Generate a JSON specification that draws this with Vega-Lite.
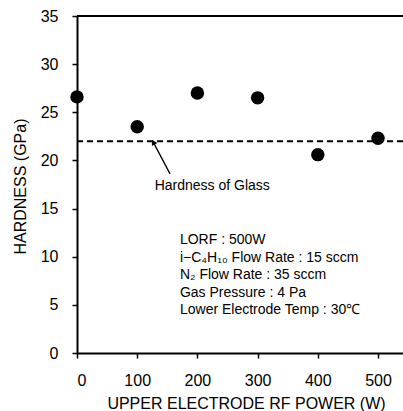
{
  "$schema": "https://vega.github.io/schema/vega-lite/v6.json",
  "width": 326,
  "height": 337,
  "autosize": {"type": "none"},
  "padding": {"left": 77, "top": 16, "right": 0, "bottom": 58},
  "background": "white",
  "config": {
    "font": "Liberation Sans",
    "view": {"stroke": null},
    "axis": {
      "grid": false,
      "labelColor": "black",
      "labelFont": "Liberation Sans",
      "labelFontSize": 16,
      "titleColor": "black",
      "titleFont": "Liberation Sans",
      "titleFontSize": 16,
      "titleFontWeight": "normal"
    }
  },
  "datasets": {
    "hardness": [
      {"power": 0, "hardness": 26.6},
      {"power": 100, "hardness": 23.5},
      {"power": 200, "hardness": 27.0},
      {"power": 300, "hardness": 26.5},
      {"power": 400, "hardness": 20.6},
      {"power": 500, "hardness": 22.3}
    ],
    "conditions": [
      {"power": 171, "hardness": 11.3, "label": "LORF : 500W"},
      {"power": 171, "hardness": 9.5, "label": "i−C₄H₁₀ Flow Rate : 15 sccm"},
      {"power": 171, "hardness": 7.7, "label": "N₂ Flow Rate : 35 sccm"},
      {"power": 171, "hardness": 5.85, "label": "Gas Pressure : 4 Pa"},
      {"power": 171, "hardness": 4.05, "label": "Lower Electrode Temp : 30℃"}
    ],
    "glassNote": [
      {"power": 129, "hardness": 16.9, "label": "Hardness of Glass"}
    ],
    "arrow": [
      {"power": 154.5, "hardness": 18.6, "end": "tail"},
      {"power": 126.7, "hardness": 21.9, "end": "tip"}
    ],
    "levels": [
      {"level": 35, "kind": "frame"},
      {"level": 22, "kind": "glass"}
    ]
  },
  "layer": [
    {
      "data": {"name": "levels"},
      "mark": {"type": "rule", "color": "black", "strokeWidth": 2},
      "encoding": {
        "y": {"field": "level", "type": "quantitative"},
        "strokeDash": {
          "field": "kind",
          "type": "nominal",
          "scale": {"domain": ["frame", "glass"], "range": [[1, 0], [6, 4]]},
          "legend": null
        }
      }
    },
    {
      "data": {"name": "hardness"},
      "mark": {"type": "circle", "color": "black", "opacity": 1, "size": 180},
      "encoding": {
        "x": {
          "field": "power",
          "type": "quantitative",
          "scale": {"domain": [0, 541.5], "nice": false, "zero": false},
          "axis": {
            "title": "UPPER ELECTRODE RF POWER (W)",
            "domain": true,
            "domainColor": "black",
            "domainWidth": 2,
            "ticks": true,
            "tickColor": "black",
            "tickWidth": 1.5,
            "tickSize": 5,
            "zindex": 1,
            "values": [0, 50, 100, 150, 200, 250, 300, 350, 400, 450, 500],
            "labelExpr": "datum.value % 100 === 0 ? datum.label : ''",
            "labelPadding": 14,
            "titleX": 169,
            "titleY": 50,
            "titleBaseline": "middle",
            "titleAnchor": "middle"
          }
        },
        "y": {
          "field": "hardness",
          "type": "quantitative",
          "scale": {"domain": [0, 35], "nice": false},
          "axis": {
            "title": "HARDNESS (GPa)",
            "domain": true,
            "domainColor": "black",
            "domainWidth": 2,
            "ticks": true,
            "tickColor": "black",
            "tickWidth": 1.5,
            "tickSize": 5,
            "zindex": 1,
            "values": [0, 2.5, 5, 7.5, 10, 12.5, 15, 17.5, 20, 22.5, 25, 27.5, 30, 32.5, 35],
            "labelExpr": "datum.value % 5 === 0 ? datum.label : ''",
            "labelPadding": 14,
            "titleX": -57,
            "titleY": 170,
            "titleBaseline": "middle",
            "titleAnchor": "middle"
          }
        }
      }
    },
    {
      "data": {"name": "arrow"},
      "mark": {"type": "line", "color": "black", "strokeWidth": 1.3},
      "encoding": {
        "x": {"field": "power", "type": "quantitative"},
        "y": {"field": "hardness", "type": "quantitative"}
      }
    },
    {
      "data": {"name": "arrow"},
      "transform": [{"filter": "datum.end === 'tip'"}],
      "mark": {"type": "point", "shape": "triangle-up", "filled": true, "color": "black", "opacity": 1, "size": 40, "angle": -30},
      "encoding": {
        "x": {"field": "power", "type": "quantitative"},
        "y": {"field": "hardness", "type": "quantitative"}
      }
    },
    {
      "data": {"name": "glassNote"},
      "mark": {"type": "text", "align": "left", "baseline": "alphabetic", "fontSize": 14, "color": "black"},
      "encoding": {
        "x": {"field": "power", "type": "quantitative"},
        "y": {"field": "hardness", "type": "quantitative"},
        "text": {"field": "label"}
      }
    },
    {
      "data": {"name": "conditions"},
      "mark": {"type": "text", "align": "left", "baseline": "alphabetic", "fontSize": 14, "color": "black"},
      "encoding": {
        "x": {"field": "power", "type": "quantitative"},
        "y": {"field": "hardness", "type": "quantitative"},
        "text": {"field": "label"}
      }
    }
  ]
}
